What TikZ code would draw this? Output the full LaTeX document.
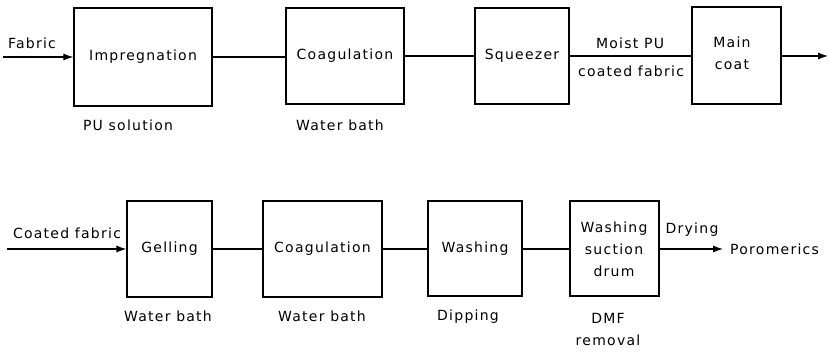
\documentclass[tikz,border=0pt]{standalone}
\usepackage{fontspec}
\setmainfont{DejaVu Sans}[LetterSpace=9]
\usetikzlibrary{arrows.meta}
\tikzset{
  stage/.style={draw, line width=1.2pt, inner sep=0pt, align=center},
  lbl/.style={inner sep=0pt, align=center},
  link/.style={line width=1.1pt},
  flow/.style={line width=1.1pt, -{Latex[length=10pt,width=7pt]}},
}
\begin{document}
\begin{tikzpicture}[x=1pt,y=-1pt]
\useasboundingbox (0,0) rectangle (829,352);
\tikzset{every node/.append style={font=\fontsize{14}{22}\selectfont}}

% upper line: impregnation to main coat
\node[stage, minimum width=138pt, minimum height=98pt] (imp) at (143,57) {Impregnation};
\node[stage, minimum width=118pt, minimum height=96pt] (coa) at (345,56) {Coagulation};
\node[stage, minimum width=94pt, minimum height=96pt] (sqz) at (522,56) {Squeezer};
\node[stage, minimum width=89pt, minimum height=97pt] (mco) at (736.5,55.5) {};
\node[lbl] (mcot) at (732,53) {Main\\coat};

\node[lbl] (fab) at (32,43) {Fabric};
\coordinate (fin) at (3,57);
\coordinate (fout) at (828,56);
\node[lbl] (pus) at (128,125) {PU solution};
\node[lbl] (wb1) at (340,125) {Water bath};
\node[lbl] (mpu) at (630,43) {Moist PU};
\node[lbl] (cfb) at (631,71) {coated fabric};

\draw[flow] (fin) -- (imp.west);
\draw[link] (imp.east |- 0,57) -- (coa.west |- 0,57);
\draw[link] (coa.east |- 0,56) -- (sqz.west |- 0,56);
\draw[link] (sqz.east |- 0,56) -- (mco.west |- 0,56);
\draw[flow] (mco.east |- 0,56) -- (fout);

% lower line: gelling to the washing suction drum
\node[stage, minimum width=85pt, minimum height=96pt] (gel) at (169.5,249) {Gelling};
\node[stage, minimum width=119pt, minimum height=96pt] (cob) at (322.5,249) {Coagulation};
\node[stage, minimum width=94pt, minimum height=95pt] (wsh) at (475,248.5) {Washing};
\node[stage, minimum width=89pt, minimum height=95pt] (wsd) at (614.5,248.5) {};
\node[lbl] (wsdt) at (614,249.5) {Washing\\suction\\drum};

\node[lbl] (cof) at (67,233) {Coated fabric};
\coordinate (cin) at (7,249);
\coordinate (cout) at (723,249);
\node[lbl, anchor=west] (por) at (730,249) {Poromerics};
\node[lbl] (dry) at (692,230) {Drying};
\node[lbl] (wb2) at (168,316) {Water bath};
\node[lbl] (wb3) at (322,316) {Water bath};
\node[lbl] (dip) at (468,317) {Dipping};
\node[lbl] (dmf) at (608,329.5) {DMF\\removal};

\draw[flow] (cin) -- (gel.west |- 0,249);
\draw[link] (gel.east |- 0,249) -- (cob.west |- 0,249);
\draw[link] (cob.east |- 0,249) -- (wsh.west |- 0,249);
\draw[link] (wsh.east |- 0,249) -- (wsd.west |- 0,249);
\draw[flow] (wsd.east |- 0,249) -- (cout);
\end{tikzpicture}
\end{document}
